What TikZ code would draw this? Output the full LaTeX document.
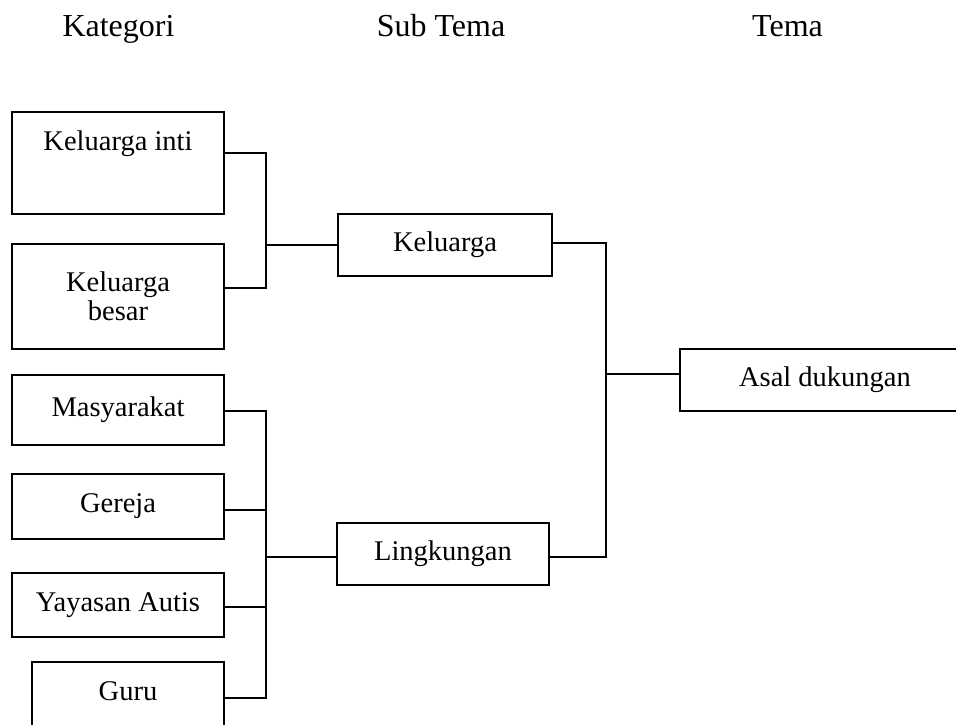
\documentclass[tikz,border=0pt]{standalone}
\usepackage{fontspec}
\setmainfont{Liberation Serif}
\begin{document}
\begin{tikzpicture}[x=1pt,y=-1pt,
  box/.style={draw, line width=1.3pt, inner sep=2pt, align=center,
    font=\fontsize{28.5}{29}\selectfont},
  topbox/.style={box, text depth=44pt},
  head/.style={anchor=base, font=\fontsize{32}{34}\selectfont},
  link/.style={line width=1.3pt}]
\useasboundingbox (0,0) rectangle (956,725);

% column headings
\node[head] (h1) at (118.5,37) {Kategori};
\node[head] (h2) at (441,37) {Sub Tema};
\node[head] (h3) at (787.5,37) {Tema};

% categories
\node[topbox, minimum width=212pt, minimum height=102pt] (ki) at (118,163) {Keluarga inti};
\node[box, minimum width=212pt, minimum height=105pt] (kb) at (118,296.5) {Keluarga\\besar};
\node[box, minimum width=212pt, minimum height=70pt] (ms) at (118,410) {Masyarakat};
\node[box, minimum width=212pt, minimum height=65pt] (gr) at (118,506.5) {Gereja};
\node[box, minimum width=212pt, minimum height=64pt] (ya) at (118,605) {Yayasan Autis};
\node[topbox, minimum width=192pt, minimum height=102pt] (gu) at (128,713) {Guru};

% sub themes
\node[box, minimum width=214pt, minimum height=62pt] (kel) at (445,245) {Keluarga};
\node[box, minimum width=212pt, minimum height=62pt] (lin) at (443,554) {Lingkungan};

% theme
\node[box, minimum width=290pt, minimum height=62pt] (asal) at (825,380) {Asal dukungan};

% bracket columns
\coordinate (xa) at (266,0);
\coordinate (xc) at (606,0);

% outlets of the boxes
\coordinate (ki-o) at ([yshift=10pt]ki.east);
\coordinate (kb-o) at ([yshift=8.5pt]kb.east);
\coordinate (ms-o) at ([yshift=-1pt]ms.east);
\coordinate (gr-o) at ([yshift=-3.5pt]gr.east);
\coordinate (ya-o) at ([yshift=-2pt]ya.east);
\coordinate (gu-o) at ([yshift=15pt]gu.east);
\coordinate (lin-i) at ([yshift=-3pt]lin.west);
\coordinate (kel-o) at ([yshift=2pt]kel.east);
\coordinate (lin-o) at ([yshift=-3pt]lin.east);
\coordinate (asal-i) at ([yshift=6pt]asal.west);

% family group
\draw[link] (ki-o) -| (xa |- kb-o) -- (kb-o);
\draw[link] (kel.west) -- (xa |- kel.west);

% surroundings group
\draw[link] (ms-o) -| (xa |- gu-o) -- (gu-o);
\draw[link] (gr-o) -- (xa |- gr-o);
\draw[link] (ya-o) -- (xa |- ya-o);
\draw[link] (lin-i) -- (xa |- lin-i);

% sub themes to theme
\draw[link] (kel-o) -| (xc |- lin-o) -- (lin-o);
\draw[link] (asal-i) -- (xc |- asal-i);
\end{tikzpicture}
\end{document}
